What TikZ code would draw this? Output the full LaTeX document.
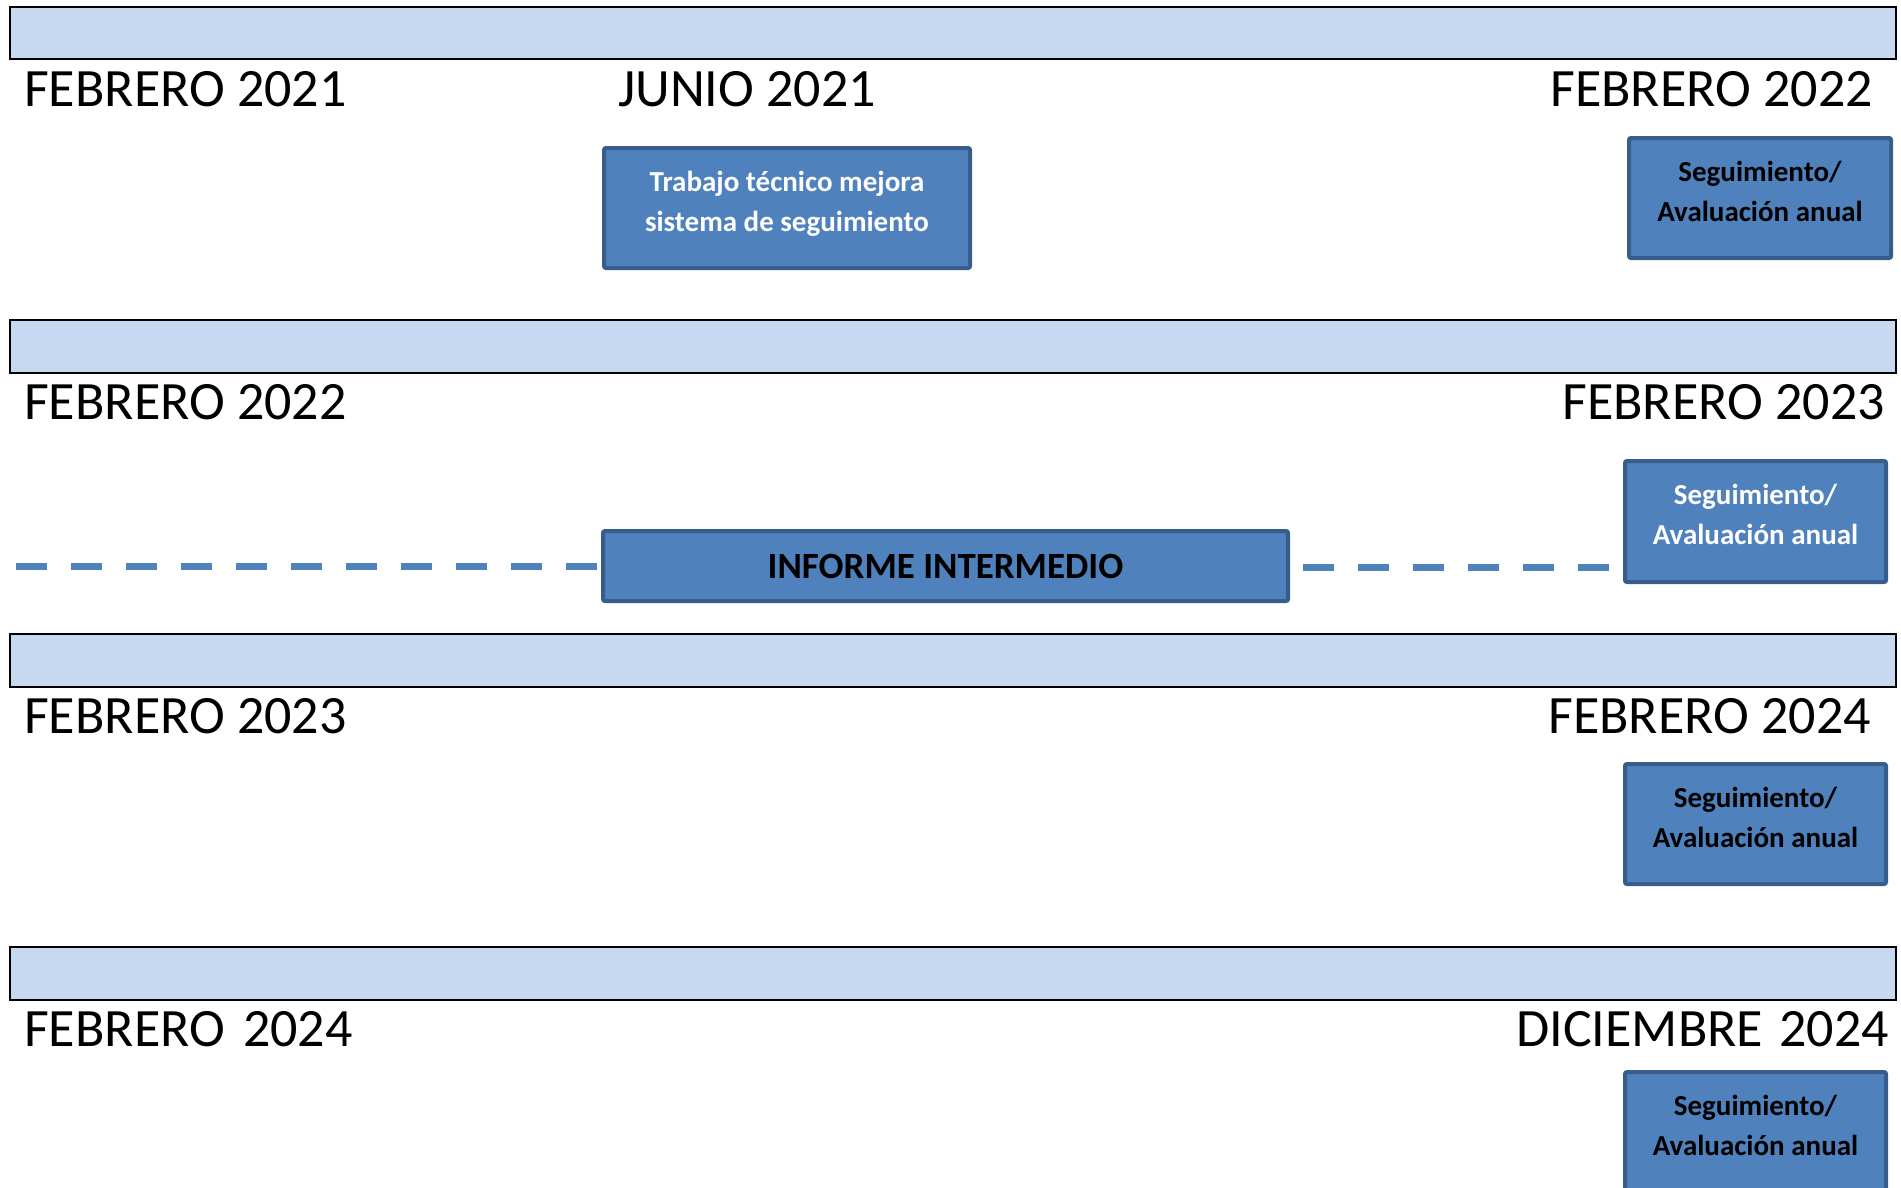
\documentclass[tikz,border=0pt]{standalone}
\usepackage{fontspec}
\setmainfont{Carlito}
\definecolor{barfill}{HTML}{C6D9F0}
\definecolor{boxfill}{HTML}{4F81BD}
\definecolor{boxline}{HTML}{385D8A}
\tikzset{
  bar/.style={draw=black, line width=2.5pt, fill=barfill},
  datelabel/.style={font=\fontsize{54}{60}\selectfont, inner sep=0pt},
  evbox/.style={draw=boxline, line width=4pt, fill=boxfill, rounded corners=2pt,
    align=center, font=\bfseries\fontsize{29}{40}\selectfont,
    text height=66pt, text depth=20pt, inner sep=0pt},
  dashline/.style={draw=boxfill, line width=7pt, dash pattern=on 31pt off 24pt}
}
\begin{document}
\begin{tikzpicture}[x=1pt,y=-1pt]
\useasboundingbox (0,0) rectangle (1901,1187);
\begin{scope}
\clip (0,0) rectangle (1901,1187);
% bars
\draw[bar] (10,7) rectangle (1896,59);
\draw[bar] (10,320) rectangle (1896,373);
\draw[bar] (10,634) rectangle (1896,687);
\draw[bar] (10,947) rectangle (1896,1000);
% date labels
\node[datelabel, anchor=base west] (l1a) at (24,106) {FEBRERO 2021};
\node[datelabel, anchor=base west] (l1b) at (618,106) {JUNIO 2021};
\node[datelabel, anchor=base east] (l1c) at (1873,106) {FEBRERO 2022};
\node[datelabel, anchor=base west] (l2a) at (24,419) {FEBRERO 2022};
\node[datelabel, anchor=base east] (l2b) at (1885,419) {FEBRERO 2023};
\node[datelabel, anchor=base west] (l3a) at (24,733) {FEBRERO 2023};
\node[datelabel, anchor=base east] (l3b) at (1871,733) {FEBRERO 2024};
\node[datelabel, anchor=base west] (l4a) at (24,1046) {FEBRERO\hspace{6pt} 2024};
\node[datelabel, anchor=base east] (l4b) at (1889,1046) {DICIEMBRE\hspace{4pt} 2024};
% boxes
\node[evbox, text=white, minimum width=366pt, minimum height=120pt] (trab) at (787,208)
  {Trabajo técnico mejora\\sistema de seguimiento};
\node[evbox, text=black, minimum width=262pt, minimum height=120pt] (seg1) at (1760,198)
  {Seguimiento/\\Avaluación anual};
\node[evbox, text=white, minimum width=261pt, minimum height=121pt] (seg2) at (1755.5,521.5)
  {Seguimiento/\\Avaluación anual};
\node[evbox, text=black, minimum width=261pt, minimum height=120pt] (seg3) at (1755.5,824)
  {Seguimiento/\\Avaluación anual};
\node[evbox, text=black, minimum width=261pt, minimum height=120pt] (seg4) at (1755.5,1132)
  {Seguimiento/\\Avaluación anual};
% informe intermedio with dashed timeline
\coordinate (dl) at (16,566);
\coordinate (dr1) at (1303,567);
\coordinate (dr2) at (1609,567);
\node[draw=boxline, line width=4pt, fill=boxfill, rounded corners=2pt,
  font=\bfseries\fontsize{37}{44}\selectfont, text=black,
  minimum width=685pt, minimum height=70pt, inner sep=0pt] (inf) at (945.5,566) {INFORME INTERMEDIO};
\draw[dashline] (dl) -- (dl -| inf.west);
\draw[dashline] (dr1) -- (dr2);
\end{scope}
\end{tikzpicture}
\end{document}
